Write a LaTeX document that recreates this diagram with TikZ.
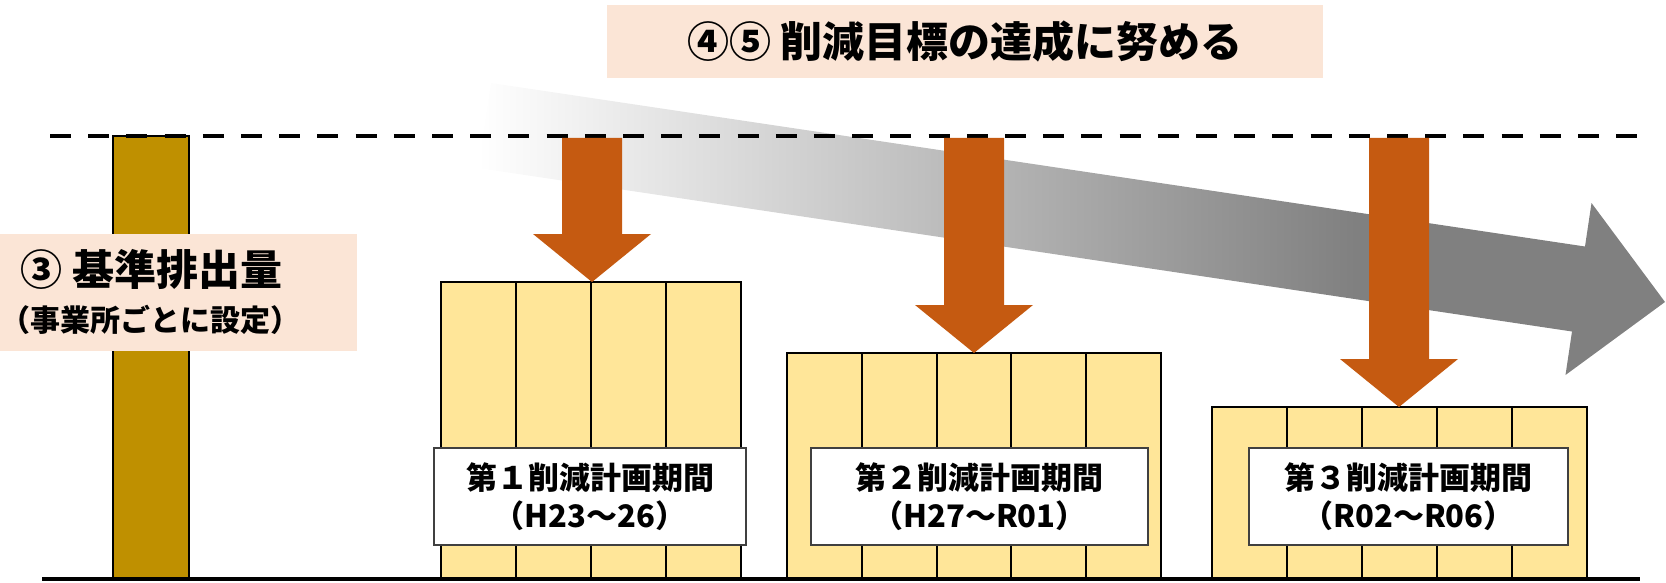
\documentclass[tikz,border=0pt]{standalone}
\usepackage{fontspec}
\setmainfont{Noto Sans CJK JP}
\definecolor{peach}{RGB}{251,229,214}
\definecolor{gold}{RGB}{191,144,0}
\definecolor{rust}{RGB}{197,90,17}
\definecolor{cream}{RGB}{255,230,153}
\definecolor{midgray}{RGB}{128,128,128}
\pgfdeclarehorizontalshading{fadegray}{100bp}{color(0bp)=(white); color(25bp)=(white); color(62bp)=(midgray); color(100bp)=(midgray)}
\tikzset{
  period/.style={draw=black, line width=1pt, fill=cream},
  tag/.style={draw=black!75, line width=0.75pt, fill=white, minimum height=48.5pt, inner sep=0pt, align=center, font=\bfseries\fontsize{15.5}{19}\selectfont},
  cut/.style={fill=rust},
  note/.style={fill=peach, inner sep=0pt},
}
\begin{document}
\begin{tikzpicture}[x=0.5pt,y=0.5pt,yscale=-1,xscale=1]
\useasboundingbox (0,0) rectangle (1666,583);

%Shape: Arrow (trend)
\shade[shading=fadegray] (491,83) -- (1585,246.5) -- (1591.5,203) -- (1665,302) -- (1565.5,375) -- (1572,331.5) -- (478,168) -- cycle ;

%Shape: Bar (base)
\draw[fill=gold, line width=0.8pt] (113,136) rectangle (189,579);

%Straight Lines (target level)
\draw[line width=2pt, dash pattern={on 10.5pt off 8.6pt}] (50,136) -- (1640,136);

%Shape: Rectangle (base label)
\fill[note] (0,234) rectangle (357,351);
% Text Node
\node[inner sep=0pt, anchor=west, font=\bfseries\fontsize{21}{25}\selectfont] (basetxt) at (20,269.5) {③ 基準排出量};
% Text Node
\node[inner sep=0pt, anchor=west, font=\bfseries\fontsize{15}{18}\selectfont] (basesub) at (0,320) {（事業所ごとに設定）};

%Shape: Blocks (periods)
\foreach \i in {0,...,3} \draw[period] ({441+75*\i},282) rectangle ({516+75*\i},579);
\foreach \i in {0,...,4} \draw[period] ({787+74.8*\i},353) rectangle ({861.8+74.8*\i},579);
\foreach \i in {0,...,4} \draw[period] ({1212+75*\i},407) rectangle ({1287+75*\i},579);

% Text Node
\node[tag, minimum width=156pt] (term1) at (590,496.5) {第１削減計画期間\\（H23～26）};
% Text Node
\node[tag, minimum width=168.5pt] (term2) at (979.5,496.5) {第２削減計画期間\\（H27～R01）};
% Text Node
\node[tag, minimum width=159.5pt] (term3) at (1408.5,496.5) {第３削減計画期間\\（R02～R06）};

%Shape: Down arrows (reduction)
\foreach \cx/\tip in {592/282, 974/353, 1399/407}
  \fill[cut] ({\cx-30},138) -- ({\cx+30},138) -- ({\cx+30},{\tip-48}) -- ({\cx+59},{\tip-48}) -- (\cx,\tip) -- ({\cx-59},{\tip-48}) -- ({\cx-30},{\tip-48}) -- cycle ;

%Straight Lines (ground)
\draw[line width=2pt] (42,579) -- (1640,579);

% Text Node
\node[note, minimum width=358pt, minimum height=36.5pt, font=\bfseries\fontsize{21}{25}\selectfont] (goal) at (965,41.5) {④⑤ 削減目標の達成に努める};

\end{tikzpicture}
\end{document}
